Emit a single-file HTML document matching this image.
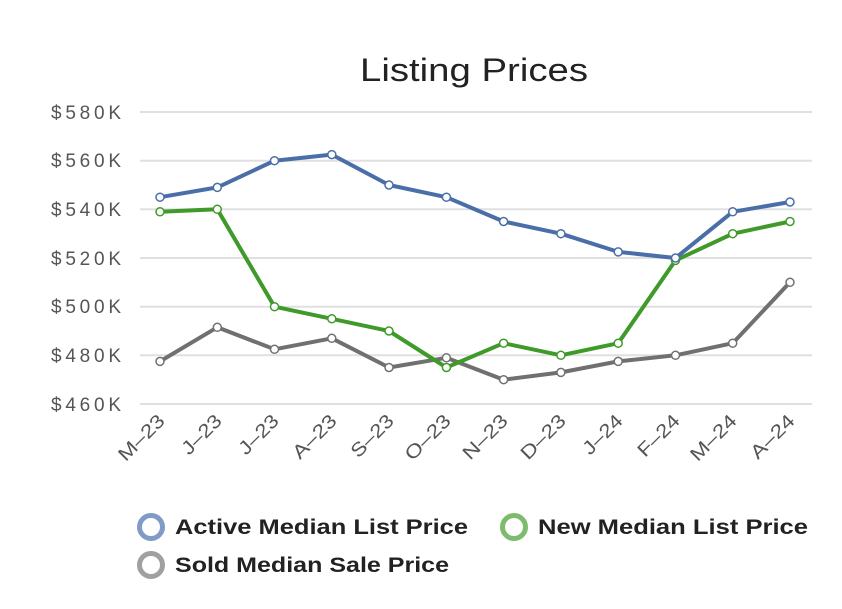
<!DOCTYPE html>
<html><head><meta charset="utf-8"><style>body{margin:0;background:#fff}</style></head><body>
<svg width="842" height="604" xmlns="http://www.w3.org/2000/svg" font-family="Liberation Sans, sans-serif">
<rect width="842" height="604" fill="#fff"/>
<text x="474" y="81" text-anchor="middle" font-size="32" fill="#222" textLength="228" lengthAdjust="spacingAndGlyphs">Listing Prices</text>
<g stroke="#e0e0e0" stroke-width="2">
<line x1="140" x2="812" y1="112" y2="112"/><line x1="140" x2="812" y1="160.7" y2="160.7"/>
<line x1="140" x2="812" y1="209.3" y2="209.3"/><line x1="140" x2="812" y1="258" y2="258"/>
<line x1="140" x2="812" y1="306.7" y2="306.7"/><line x1="140" x2="812" y1="355.3" y2="355.3"/>
<line x1="140" x2="812" y1="404" y2="404"/></g>
<g font-size="19" fill="#555" text-anchor="end" lengthAdjust="spacingAndGlyphs">
<text x="121" y="119" textLength="70">$580K</text><text x="121" y="167" textLength="70">$560K</text><text x="121" y="216" textLength="70">$540K</text>
<text x="121" y="265" textLength="70">$520K</text><text x="121" y="313" textLength="70">$500K</text><text x="121" y="362" textLength="70">$480K</text><text x="121" y="411" textLength="70">$460K</text></g>
<g font-size="19" fill="#555" text-anchor="end">
<text transform="translate(166,422) rotate(-45)" textLength="57" lengthAdjust="spacingAndGlyphs">M–23</text>
<text transform="translate(223,422) rotate(-45)" textLength="48" lengthAdjust="spacingAndGlyphs">J–23</text>
<text transform="translate(280,422) rotate(-45)" textLength="48" lengthAdjust="spacingAndGlyphs">J–23</text>
<text transform="translate(338,422) rotate(-45)" textLength="54" lengthAdjust="spacingAndGlyphs">A–23</text>
<text transform="translate(395,422) rotate(-45)" textLength="52" lengthAdjust="spacingAndGlyphs">S–23</text>
<text transform="translate(452,422) rotate(-45)" textLength="56" lengthAdjust="spacingAndGlyphs">O–23</text>
<text transform="translate(509,422) rotate(-45)" textLength="55" lengthAdjust="spacingAndGlyphs">N–23</text>
<text transform="translate(567,422) rotate(-45)" textLength="55" lengthAdjust="spacingAndGlyphs">D–23</text>
<text transform="translate(624,422) rotate(-45)" textLength="48" lengthAdjust="spacingAndGlyphs">J–24</text>
<text transform="translate(681,422) rotate(-45)" textLength="51" lengthAdjust="spacingAndGlyphs">F–24</text>
<text transform="translate(738,422) rotate(-45)" textLength="57" lengthAdjust="spacingAndGlyphs">M–24</text>
<text transform="translate(796,422) rotate(-45)" textLength="54" lengthAdjust="spacingAndGlyphs">A–24</text></g>
<g fill="none" stroke-width="4" stroke-linejoin="round">
<polyline stroke="#707070" points="160,361.4 217.3,327.3 274.5,349.3 331.8,338.3 389,367.5 446.4,357.8 503.6,379.7 560.9,372.4 618.2,361.4 675.5,355.3 732.7,343.2 790,282.3"/>
<polyline stroke="#3f9a2a" points="160,211.8 217.3,209.3 274.5,306.7 331.8,318.8 389,331 446.4,367.5 503.6,343.2 560.9,355.3 618.2,343.2 675.5,260.4 732.7,233.7 790,221.5"/>
<polyline stroke="#4a6ea8" points="160,197.2 217.3,187.4 274.5,160.7 331.8,154.6 389,185 446.4,197.2 503.6,221.5 560.9,233.7 618.2,251.9 675.5,258 732.7,211.8 790,202"/>
</g>
<g fill="#fff" stroke-width="1.5">
<g stroke="#707070"><circle cx="160" cy="361.4" r="4"/><circle cx="217.3" cy="327.3" r="4"/><circle cx="274.5" cy="349.3" r="4"/><circle cx="331.8" cy="338.3" r="4"/><circle cx="389" cy="367.5" r="4"/><circle cx="446.4" cy="357.8" r="4"/><circle cx="503.6" cy="379.7" r="4"/><circle cx="560.9" cy="372.4" r="4"/><circle cx="618.2" cy="361.4" r="4"/><circle cx="675.5" cy="355.3" r="4"/><circle cx="732.7" cy="343.2" r="4"/><circle cx="790" cy="282.3" r="4"/></g>
<g stroke="#3f9a2a"><circle cx="160" cy="211.8" r="4"/><circle cx="217.3" cy="209.3" r="4"/><circle cx="274.5" cy="306.7" r="4"/><circle cx="331.8" cy="318.8" r="4"/><circle cx="389" cy="331" r="4"/><circle cx="446.4" cy="367.5" r="4"/><circle cx="503.6" cy="343.2" r="4"/><circle cx="560.9" cy="355.3" r="4"/><circle cx="618.2" cy="343.2" r="4"/><circle cx="675.5" cy="260.4" r="4"/><circle cx="732.7" cy="233.7" r="4"/><circle cx="790" cy="221.5" r="4"/></g>
<g stroke="#4a6ea8"><circle cx="160" cy="197.2" r="4"/><circle cx="217.3" cy="187.4" r="4"/><circle cx="274.5" cy="160.7" r="4"/><circle cx="331.8" cy="154.6" r="4"/><circle cx="389" cy="185" r="4"/><circle cx="446.4" cy="197.2" r="4"/><circle cx="503.6" cy="221.5" r="4"/><circle cx="560.9" cy="233.7" r="4"/><circle cx="618.2" cy="251.9" r="4"/><circle cx="675.5" cy="258" r="4"/><circle cx="732.7" cy="211.8" r="4"/><circle cx="790" cy="202" r="4"/></g>
</g>
<g fill="none" stroke-width="5">
<circle cx="151" cy="527" r="11.5" stroke="#7f9bc6"/>
<circle cx="514" cy="527" r="11.5" stroke="#7cbc6c"/>
<circle cx="151" cy="565" r="11.5" stroke="#a0a0a0"/></g>
<g font-size="21" font-weight="bold" fill="#222" lengthAdjust="spacingAndGlyphs">
<text x="175" y="534" textLength="293" lengthAdjust="spacingAndGlyphs">Active Median List Price</text>
<text x="538" y="534" textLength="270" lengthAdjust="spacingAndGlyphs">New Median List Price</text>
<text x="175" y="572" textLength="274" lengthAdjust="spacingAndGlyphs">Sold Median Sale Price</text></g>
</svg>
</body></html>
